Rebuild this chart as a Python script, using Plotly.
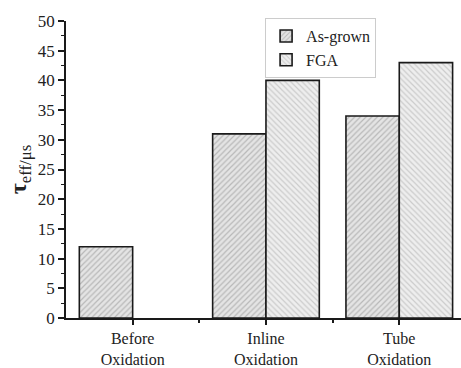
import plotly.graph_objects as go

categories = ["Before<br>Oxidation", "Inline<br>Oxidation", "Tube<br>Oxidation"]
x_pos = [0, 1, 2]
as_grown = [12, 31, 34]
fga = [None, 40, 43]
series_names = ["As-grown", "FGA"]
y_ticks = [0, 5, 10, 15, 20, 25, 30, 35, 40, 45, 50]

font_family = "Times New Roman, Liberation Serif, serif"

fig = go.Figure()
fig.add_trace(go.Bar(
    x=x_pos, y=as_grown, name=series_names[0],
    marker=dict(color="#d6d6d6", line=dict(color="#1a1a1a", width=1.6),
                pattern=dict(shape="/", fgcolor="#8c8c8c", bgcolor="#e4e4e4",
                             size=4, solidity=0.3)),
))
fig.add_trace(go.Bar(
    x=x_pos, y=fga, name=series_names[1],
    marker=dict(color="#e6e6e6", line=dict(color="#1a1a1a", width=1.6),
                pattern=dict(shape="\\", fgcolor="#a8a8a8", bgcolor="#eeeeee",
                             size=4, solidity=0.3)),
))

fig.update_layout(
    width=461, height=368,
    margin=dict(l=66, r=0, t=21, b=50),
    paper_bgcolor="white", plot_bgcolor="white",
    barmode="group", bargap=0.2, bargroupgap=0,
    font=dict(family=font_family, size=17, color="#222"),
    showlegend=True,
    legend=dict(x=0.504, y=1.01, xanchor="left", yanchor="top",
                bordercolor="#cccccc", borderwidth=1, bgcolor="white",
                font=dict(size=16, family=font_family), tracegroupgap=0,
                itemwidth=30),
)
fig.update_xaxes(
    range=[-0.5, 2.463], tickmode="array", tickvals=x_pos, ticktext=categories,
    showline=True, linecolor="#1a1a1a", linewidth=1.6,
    ticks="outside", ticklen=5, tickwidth=1.5, tickcolor="#1a1a1a",
    minor=dict(tickmode="array", tickvals=[0.5, 1.5], ticks="outside", ticklen=3,
               tickwidth=1.5, tickcolor="#1a1a1a"),
    showgrid=False, zeroline=False, fixedrange=True, automargin=False,
    tickfont=dict(size=16, family=font_family),
)
fig.update_yaxes(
    range=[0, 50], tickmode="array", tickvals=y_ticks,
    showline=True, linecolor="#1a1a1a", linewidth=1.6,
    ticks="outside", ticklen=6, tickwidth=1.5, tickcolor="#1a1a1a",
    minor=dict(dtick=2.5, tick0=0, ticks="outside", ticklen=3, tickwidth=1.2,
               tickcolor="#1a1a1a", showgrid=False),
    showgrid=False, zeroline=False, automargin=False,
    tickfont=dict(size=17, family=font_family),
    title=dict(text="<b>τ</b><sub>eff/μs</sub>", font=dict(size=24, family=font_family),
               standoff=4),
)

fig.write_html("out.html")
